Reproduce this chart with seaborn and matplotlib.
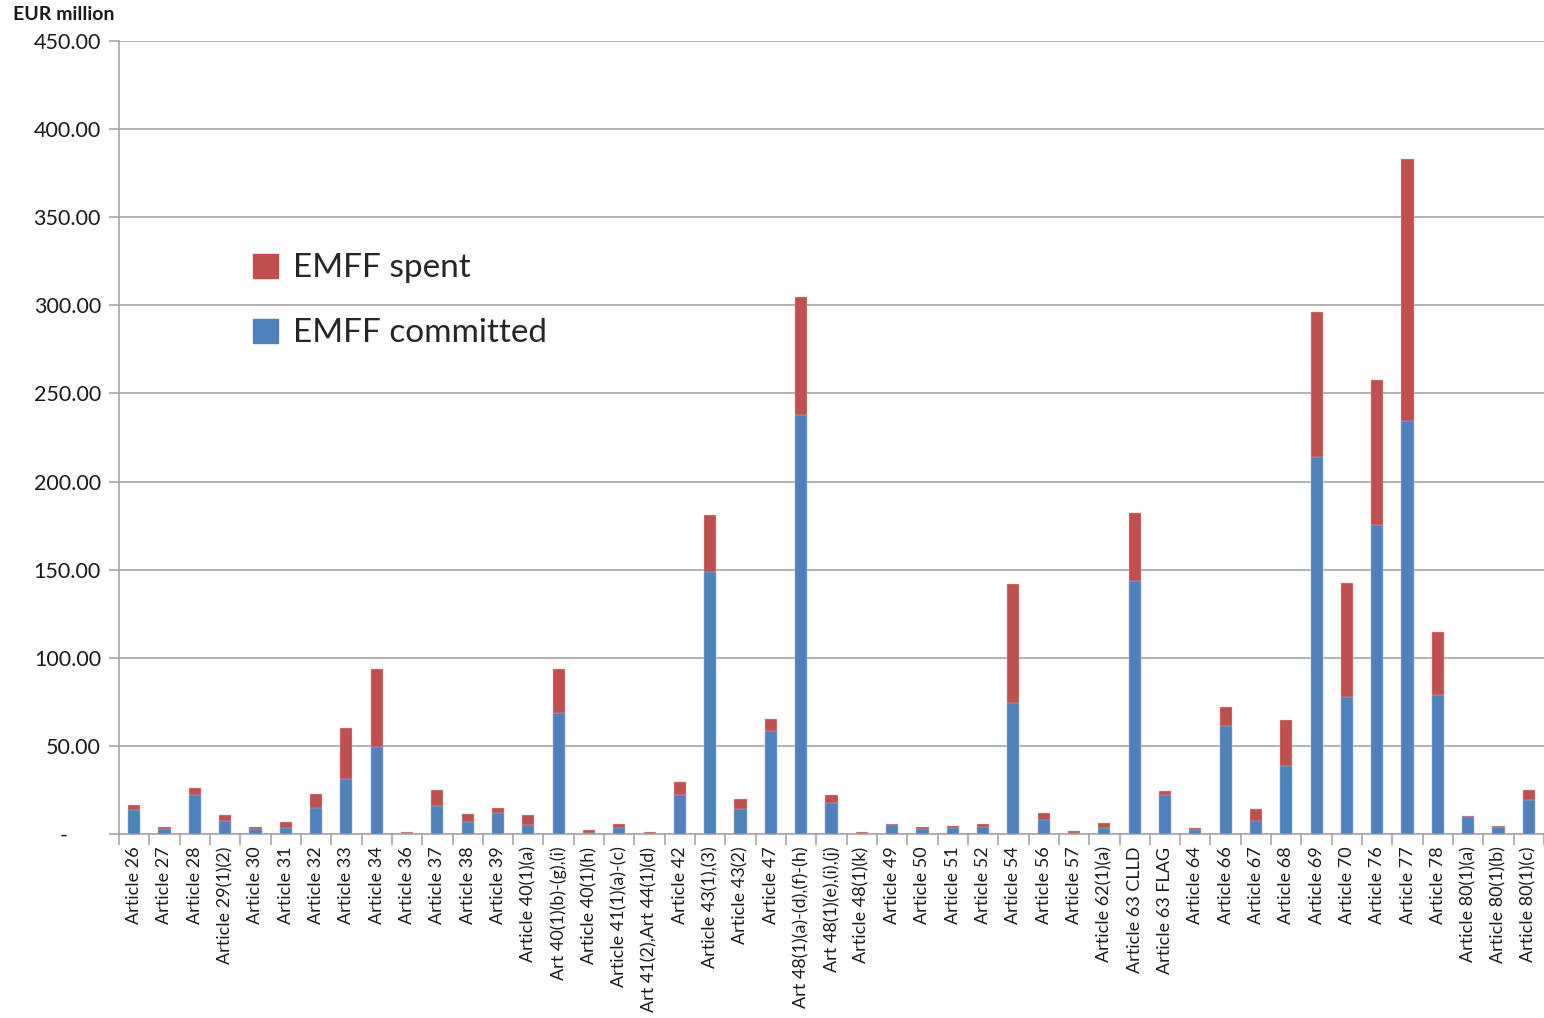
import matplotlib
matplotlib.use("Agg")
import matplotlib.pyplot as plt
import matplotlib.patches as mpatches
from matplotlib.ticker import FixedLocator, FuncFormatter
import seaborn as sns
import pandas as pd

categories = [
    "Article 26", "Article 27", "Article 28", "Article 29(1)(2)", "Article 30",
    "Article 31", "Article 32", "Article 33", "Article 34", "Article 36",
    "Article 37", "Article 38", "Article 39", "Article 40(1)(a)",
    "Art 40(1)(b)-(g),(i)", "Article 40(1)(h)", "Article 41(1)(a)-(c)",
    "Art 41(2),Art 44(1)(d)", "Article 42", "Article 43(1),(3)", "Article 43(2)",
    "Article 47", "Art 48(1)(a)-(d),(f)-(h)", "Art 48(1)(e),(i),(j)",
    "Article 48(1)(k)", "Article 49", "Article 50", "Article 51", "Article 52",
    "Article 54", "Article 56", "Article 57", "Article 62(1)(a)",
    "Article 63 CLLD", "Article 63 FLAG", "Article 64", "Article 66",
    "Article 67", "Article 68", "Article 69", "Article 70", "Article 76",
    "Article 77", "Article 78", "Article 80(1)(a)", "Article 80(1)(b)",
    "Article 80(1)(c)",
]

committed = [
    13.8, 2.7, 22.0, 7.2, 2.7, 3.2, 14.6, 31.3, 49.2, 0.6,
    16.1, 6.6, 11.9, 5.3, 68.6, 0.6, 3.2, 0.6, 22.0, 148.7,
    14.0, 58.7, 237.8, 17.4, 0.6, 4.9, 2.8, 3.6, 4.0, 74.1,
    8.0, 0.6, 3.2, 143.6, 22.0, 2.1, 61.4, 7.2, 38.6, 214.0,
    77.8, 175.4, 234.4, 78.6, 9.5, 4.0, 19.3,
]

spent = [
    2.9, 1.1, 3.9, 3.6, 1.1, 3.4, 8.1, 28.7, 44.7, 0.7,
    9.1, 4.8, 2.7, 5.5, 24.8, 1.5, 2.3, 0.7, 7.4, 32.3,
    5.9, 6.5, 67.0, 4.6, 0.7, 0.6, 1.2, 0.9, 1.5, 67.8,
    3.9, 1.3, 2.9, 38.6, 2.6, 1.1, 10.6, 6.8, 26.0, 82.3,
    64.6, 82.3, 148.7, 36.0, 0.5, 0.5, 5.9,
]

yticks = [0, 50, 100, 150, 200, 250, 300, 350, 400, 450]

BLUE = "#4F81BD"
RED = "#C0504D"
GRID = "#A6A6A6"

df = pd.DataFrame({
    "category": categories,
    "committed": committed,
    "total": [c + s for c, s in zip(committed, spent)],
})

sns.set_style("white")
plt.rcParams["font.family"] = ["Lato", "DejaVu Sans"]

W, H = 1544, 1018
fig = plt.figure(figsize=(W / 100, H / 100), dpi=100)
ax = fig.add_axes([119 / W, (H - 834) / H, (1544 - 119) / W, (834 - 41) / H])

sns.barplot(data=df, x="category", y="total", color=RED, width=0.4,
            saturation=1, ax=ax, zorder=3, edgecolor="#E6B9B8", linewidth=0.3)
sns.barplot(data=df, x="category", y="committed", color=BLUE, width=0.4,
            saturation=1, ax=ax, zorder=4, edgecolor="#B9CDE5", linewidth=0.3)

ax.set_xlim(-0.5, len(categories) - 0.5)
ax.set_ylim(0, 450)
ax.set_xlabel("")
ax.set_ylabel("")

ax.yaxis.set_major_locator(FixedLocator(yticks))
ax.yaxis.set_major_formatter(FuncFormatter(lambda v, p: "-      " if v == 0 else f"{v:.2f}"))
ax.grid(axis="y", color=GRID, linewidth=1.2, zorder=0)
ax.set_axisbelow(True)

ax.tick_params(axis="y", labelsize=15.5, length=7, width=1.2, color=GRID,
               labelcolor="#1a1a1a", pad=6, left=True)
ax.set_xticks(range(len(categories)))
ax.set_xticklabels(categories, rotation=90, fontsize=13, color="#1a1a1a")
ax.tick_params(axis="x", which="major", length=0, pad=9)
ax.set_xticks([i - 0.5 for i in range(len(categories) + 1)], minor=True)
ax.tick_params(axis="x", which="minor", length=8, width=1.2, color=GRID, bottom=True)

for side in ["top", "right"]:
    ax.spines[side].set_visible(False)
for side in ["left", "bottom"]:
    ax.spines[side].set_color(GRID)
    ax.spines[side].set_linewidth(1.2)

fig.text(13 / W, 1 - 15 / H, "EUR million", fontsize=14, fontweight="bold",
         ha="left", va="center", color="#1a1a1a")

handles = [mpatches.Patch(color=RED, label="EMFF spent"),
           mpatches.Patch(color=BLUE, label="EMFF committed")]
fig.legend(handles=handles, loc="upper left",
           bbox_to_anchor=(240 / W, 1 - 240 / H), frameon=False,
           fontsize=24, handlelength=0.75, handleheight=0.75,
           handletextpad=0.45, labelspacing=1.05, borderaxespad=0)

fig.savefig("out.png", dpi=100)
